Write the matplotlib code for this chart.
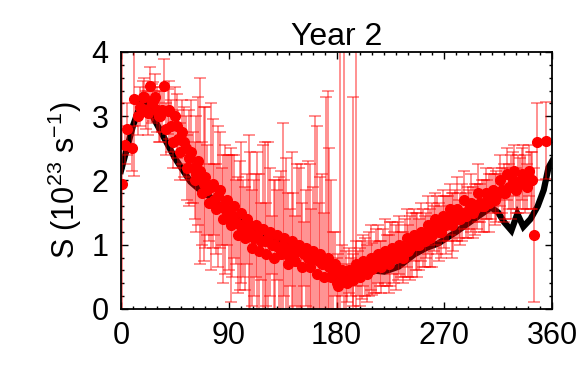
import matplotlib
matplotlib.use("Agg")
import matplotlib.pyplot as plt
from matplotlib.ticker import MultipleLocator

plt.rcParams['font.family'] = ['Liberation Sans', 'DejaVu Sans']
plt.rcParams['mathtext.fontset'] = 'custom'
plt.rcParams['mathtext.rm'] = 'Liberation Sans'
plt.rcParams['mathtext.it'] = 'Liberation Sans'

# Model curve (black)
model_x = [0, 5, 10, 18, 25, 35, 45, 58, 66, 74, 82, 91, 101, 112, 125, 140, 150, 160, 170, 178,
           182, 190, 200, 210, 220, 232, 245, 255, 265, 280, 295, 309, 315, 320, 326, 331,
           336, 342, 348, 353, 357, 360]
model_y = [2.15, 2.5, 2.85, 3.27, 3.05, 2.7, 2.35, 1.98, 1.85, 1.75, 1.62, 1.47, 1.42, 1.18, 1.08,
           0.98, 0.93, 0.85, 0.75, 0.5, 0.42, 0.5, 0.55, 0.6, 0.58, 0.66, 0.85, 0.95, 1.02, 1.2,
           1.4, 1.58, 1.5, 1.35, 1.22, 1.48, 1.28, 1.4, 1.6, 1.85, 2.2, 2.3]

# Observations (red) with errors, set A
obs_x = [1, 3, 5, 9, 11, 14, 18, 21, 24, 27, 30, 33, 36, 39, 42, 45, 48, 51, 54, 57, 60,
         63, 66, 69, 72, 75, 78, 81, 84, 87, 90, 93, 96, 99, 102, 105, 108, 111, 114, 117,
         120, 123, 126, 129, 132, 135, 138, 141, 144, 147, 150, 153, 156, 159, 162, 165,
         168, 171, 174, 177, 180, 183, 186, 189, 192, 194, 196, 198, 201, 204, 207, 210,
         213, 216, 219, 222, 225, 228, 231, 234, 237, 240, 243, 246, 249, 252, 255, 258,
         261, 264, 267, 270, 273, 276, 279, 282, 285, 288, 291, 294, 297, 300, 303, 306,
         309, 312, 315, 318, 321, 324, 327, 330, 333, 336, 339, 342, 345, 347, 355]
obs_y = [1.95, 2.55, 2.8, 2.5, 3.27, 3.0, 3.3, 3.1, 3.47, 3.23, 3.1, 3.0, 3.47, 3.08, 2.85,
         3.0, 2.65, 2.75, 2.5, 2.35, 2.2, 2.1, 2.15, 1.95, 1.85, 1.9, 1.7, 1.75, 1.6, 1.55,
         1.5, 1.45, 1.35, 1.3, 1.25, 1.4, 1.2, 1.1, 1.15, 1.05, 1.05, 1.1, 1.0, 1.0, 0.95,
         1.0, 0.85, 0.95, 0.8, 0.9, 0.9, 0.85, 0.8, 0.75, 0.8, 0.75, 0.7, 0.7, 0.65, 0.6,
         0.4, 0.55, 0.45, 0.4, 0.5, 0.5, 0.6, 0.55, 0.6, 0.65, 0.7, 0.62, 0.75, 0.7, 0.8,
         0.75, 0.85, 0.8, 0.9, 0.85, 0.95, 0.9, 1.0, 1.05, 1.0, 1.1, 1.15, 1.1, 1.25, 1.3,
         1.2, 1.35, 1.4, 1.3, 1.45, 1.4, 1.5, 1.45, 1.55, 1.5, 1.6, 1.65, 1.6, 1.7, 1.75,
         1.7, 1.8, 1.85, 1.8, 1.9, 2.0, 1.85, 1.95, 2.05, 1.9, 2.0, 1.15, 2.6, 2.62]
obs_err = [2.5, 0.3, 0.4, 0.35, 1.2, 0.3, 0.25, 0.3, 0.3, 0.3, 0.35, 0.4, 0.42, 0.35, 0.4,
           0.45, 0.45, 0.5, 0.5, 0.75, 0.55, 0.9, 1.45, 1.2, 0.7, 1.3, 0.55, 1.1, 0.6, 1.0,
           0.9, 0.95, 0.65, 1.0, 0.75, 0.7, 1.25, 0.9, 1.3, 0.6, 1.55, 1.5, 0.45, 1.0, 1.1,
           1.9, 1.5, 0.6, 1.0, 1.35, 1.35, 0.5, 1.5, 0.8, 2.2, 0.9, 1.4, 2.6, 1.85, 0.6,
           0.4, 4.5, 4.5, 0.3, 0.3, 2.8, 4.0, 0.35, 0.45, 0.45, 0.5, 0.4, 0.5, 0.35, 0.45,
           0.4, 0.5, 0.4, 0.45, 0.35, 0.45, 0.4, 0.5, 0.45, 0.4, 0.45, 0.35, 0.45, 0.35, 0.45,
           0.4, 0.4, 0.35, 0.5, 0.4, 0.3, 0.45, 0.35, 0.3, 0.4, 0.35, 0.3, 0.4, 0.3, 0.35,
           0.4, 0.3, 0.35, 0.4, 0.35, 0.45, 0.35, 0.4, 0.5, 0.35, 0.45, 1.05, 0.6, 0.6]

# Observations (red) with errors, set B
obs2_x = [15.5, 19.5, 22.5, 25.5, 28.5, 31.5, 34.5, 37.5, 40.5, 43.5,
          46.5, 49.5, 52.5, 55.5, 58.5, 61.5, 64.5, 67.5, 70.5, 73.5,
          76.5, 79.5, 82.5, 85.5, 88.5, 91.5, 94.5, 97.5, 100.5, 103.5,
          106.5, 109.5, 112.5, 115.5, 118.5, 121.5, 124.5, 127.5, 130.5, 133.5,
          136.5, 139.5, 142.5, 145.5, 148.5, 151.5, 154.5, 157.5, 160.5, 163.5,
          166.5, 169.5, 172.5, 175.5, 178.5, 181.5, 184.5, 187.5, 190.5, 193.5,
          196.5, 199.5, 202.5, 205.5, 208.5, 211.5, 214.5, 217.5, 220.5, 223.5,
          226.5, 229.5, 232.5, 235.5, 238.5, 241.5, 244.5, 247.5, 250.5, 253.5,
          256.5, 259.5, 262.5, 265.5, 268.5, 271.5, 274.5, 277.5, 280.5, 283.5,
          286.5, 289.5, 292.5, 295.5, 298.5, 301.5, 304.5, 307.5, 310.5, 313.5,
          316.5, 319.5, 322.5, 325.5, 328.5, 331.5, 334.5, 337.5, 340.5, 343.5]
obs2_y = [3.15, 3.3, 3.05, 3.2, 3.3, 3.0, 3.1, 2.8, 3.1, 2.6,
          2.85, 2.45, 2.6, 2.2, 2.45, 2.0, 2.3, 1.8, 2.05, 1.65,
          1.95, 1.55, 1.85, 1.4, 1.7, 1.3, 1.6, 1.15, 1.5, 1.1,
          1.3, 0.95, 1.3, 0.9, 1.25, 0.85, 1.2, 0.8, 1.15, 0.85,
          1.1, 0.7, 1.05, 0.75, 1.0, 0.65, 0.95, 0.65, 0.9, 0.55,
          0.85, 0.5, 0.8, 0.5, 0.7, 0.35, 0.6, 0.45, 0.6, 0.45,
          0.7, 0.5, 0.75, 0.55, 0.8, 0.65, 0.85, 0.65, 0.9, 0.7,
          0.95, 0.8, 1.0, 0.8, 1.1, 0.95, 1.15, 1.0, 1.2, 1.05,
          1.3, 1.15, 1.4, 1.2, 1.45, 1.3, 1.55, 1.35, 1.55, 1.4,
          1.7, 1.5, 1.65, 1.55, 1.8, 1.6, 1.8, 1.65, 1.85, 1.75,
          2.0, 1.8, 2.1, 1.9, 2.15, 1.95, 2.1, 1.95, 2.15, 2.0]
obs2_err = [0.3, 0.3, 0.35, 0.3, 0.35, 0.4, 0.35, 0.4, 0.45, 0.4,
            0.5, 0.45, 0.55, 0.5, 0.8, 0.6, 1.0, 0.8, 1.1, 0.6,
            1.0, 0.7, 0.9, 1.0, 0.7, 1.2, 0.8, 0.9, 1.1, 0.8,
            1.4, 0.9, 0.8, 1.2, 1.3, 0.8, 1.0, 1.2, 0.7, 1.3,
            0.9, 1.1, 1.4, 0.7, 1.2, 1.0, 0.9, 1.6, 1.0, 2.3,
            1.2, 1.0, 2.6, 1.5, 0.5, 0.5, 0.4, 0.45, 0.35, 0.4,
            0.35, 0.45, 0.4, 0.45, 0.5, 0.4, 0.45, 0.4, 0.5, 0.45,
            0.4, 0.5, 0.45, 0.4, 0.45, 0.5, 0.4, 0.5, 0.45, 0.4,
            0.45, 0.5, 0.4, 0.45, 0.4, 0.45, 0.4, 0.45, 0.5, 0.4,
            0.45, 0.4, 0.45, 0.4, 0.45, 0.4, 0.4, 0.45, 0.35, 0.4,
            0.4, 0.45, 0.4, 0.5, 0.4, 0.45, 0.4, 0.45, 0.4, 0.45]

fig = plt.figure(figsize=(5.83, 3.66), dpi=100)
ax = fig.add_axes([0.2075, 0.156, 0.7395, 0.702])

ax.plot(model_x, model_y, color='black', lw=4.5, zorder=1, solid_joinstyle='miter')
for xs, ys, es in [(obs_x, obs_y, obs_err), (obs2_x, obs2_y, obs2_err)]:
    ax.errorbar(xs, ys, yerr=es, fmt='o', color='red', ecolor=(1, 0, 0, 0.55),
                elinewidth=1.1, capsize=4, capthick=1.1, markersize=7,
                zorder=2)

ax.set_xlim(0, 360)
ax.set_ylim(0, 4)
ax.xaxis.set_major_locator(MultipleLocator(90))
ax.xaxis.set_minor_locator(MultipleLocator(10))
ax.yaxis.set_major_locator(MultipleLocator(1))
ax.yaxis.set_minor_locator(MultipleLocator(0.2))
ax.tick_params(which='both', direction='in', top=True, right=True, labelsize=22, width=1)
ax.tick_params(which='major', length=5, pad=9)
ax.tick_params(which='minor', length=2.5)
for s in ax.spines.values():
    s.set_linewidth(1.3)

ax.set_title('Year 2', fontsize=23, pad=3)
ax.set_ylabel(r'S (10$^{23}$ s$^{-1}$)', fontsize=22, labelpad=5)

fig.savefig('out.png', dpi=100)
